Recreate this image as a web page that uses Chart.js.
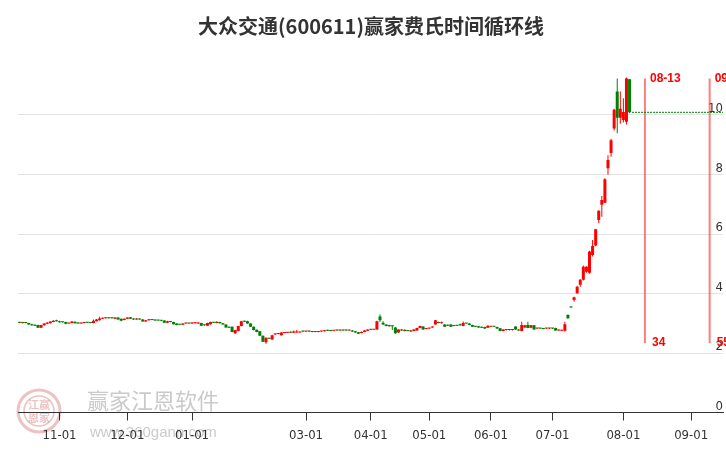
<!DOCTYPE html>
<html><head><meta charset="utf-8">
<script src="https://cdn.jsdelivr.net/npm/chart.js@4.4.1/dist/chart.umd.min.js"></script>
<style>html,body{margin:0;padding:0;background:#fff;}</style>
</head><body>
<canvas id="c" width="726" height="450"></canvas>
<script>
const chartTitle = '大众交通(600611)赢家费氏时间循环线';
const opens = [3.03,3.01,3.03,3.01,2.97,2.94,2.94,2.85,2.93,2.98,3.00,3.04,3.08,3.07,3.04,3.04,2.99,3.01,3.05,3.02,
2.99,3.01,3.03,3.02,3.01,3.07,3.10,3.15,3.17,3.18,3.18,3.15,3.19,3.15,3.11,3.15,3.20,3.16,3.13,3.15,
3.13,3.06,3.10,3.12,3.12,3.10,3.10,3.09,3.02,3.04,3.04,2.99,2.96,2.95,2.99,3.00,2.99,3.00,2.99,3.01,
2.94,2.92,2.97,3.03,3.01,3.04,3.00,2.96,2.88,2.88,2.66,2.74,2.91,3.07,3.07,2.99,2.88,2.78,2.73,2.58,
2.36,2.50,2.45,2.62,2.64,2.60,2.67,2.68,2.71,2.68,2.69,2.69,2.73,2.72,2.73,2.71,2.71,2.71,2.72,2.73,
2.77,2.76,2.75,2.77,2.76,2.77,2.77,2.76,2.76,2.73,2.70,2.67,2.71,2.75,2.79,2.78,2.79,3.23,3.02,2.96,
2.94,2.92,2.86,2.69,2.79,2.74,2.76,2.72,2.74,2.76,2.84,2.89,2.81,2.82,2.86,2.96,3.04,3.00,2.96,2.95,
2.96,2.91,2.93,2.97,2.91,3.00,2.99,2.94,2.90,2.90,2.88,2.87,2.85,2.88,2.89,2.87,2.83,2.74,2.77,2.78,
2.77,2.89,2.79,2.74,2.86,2.94,2.85,2.93,2.82,2.83,2.82,2.82,2.82,2.83,2.84,2.76,2.75,2.75,3.28,3.55,
3.78,4.01,4.29,4.46,4.73,4.70,5.29,5.61,6.47,6.98,7.05,8.21,8.72,9.55,10.79,9.91,9.83,9.77,11.20];
const closes = [3.02,3.03,3.01,2.96,2.93,2.92,2.85,2.94,2.99,3.02,3.06,3.08,3.07,3.03,3.03,2.98,3.00,3.06,3.00,2.99,
3.01,3.02,3.02,3.01,3.08,3.13,3.16,3.18,3.18,3.17,3.17,3.19,3.13,3.08,3.15,3.19,3.15,3.13,3.16,3.13,
3.06,3.10,3.13,3.11,3.09,3.09,3.08,3.02,3.07,3.05,2.97,2.94,2.95,2.99,3.01,2.99,3.02,3.03,3.02,2.92,
2.93,3.01,3.04,3.02,3.05,3.00,2.96,2.86,2.85,2.71,2.77,2.91,3.07,3.05,2.99,2.88,2.77,2.71,2.58,2.38,
2.51,2.48,2.60,2.65,2.65,2.69,2.69,2.69,2.68,2.72,2.72,2.71,2.72,2.73,2.72,2.73,2.73,2.73,2.73,2.76,
2.75,2.74,2.76,2.76,2.77,2.76,2.76,2.77,2.72,2.69,2.65,2.71,2.76,2.79,2.78,2.79,3.07,3.10,2.96,2.91,
2.90,2.90,2.66,2.79,2.76,2.78,2.74,2.76,2.79,2.84,2.91,2.79,2.82,2.83,2.89,3.10,3.01,3.03,2.88,2.92,
2.88,2.93,2.92,2.93,3.01,2.99,2.94,2.88,2.88,2.86,2.85,2.82,2.92,2.89,2.88,2.82,2.74,2.79,2.78,2.77,
2.78,2.79,2.76,2.94,2.93,2.84,2.93,2.79,2.83,2.82,2.81,2.83,2.83,2.82,2.76,2.78,2.77,2.97,3.17,3.53,
3.87,4.23,4.46,4.90,4.90,5.41,5.60,6.16,6.78,7.14,7.84,8.49,9.15,10.18,9.91,10.21,10.10,11.23,10.09];
const highs = [3.04,3.04,3.04,3.02,2.98,2.96,2.95,2.95,3.00,3.04,3.07,3.10,3.12,3.08,3.05,3.05,3.02,3.07,3.06,3.03,
3.02,3.03,3.04,3.03,3.13,3.14,3.22,3.19,3.20,3.19,3.19,3.20,3.20,3.16,3.16,3.20,3.21,3.17,3.17,3.16,
3.14,3.11,3.14,3.13,3.13,3.11,3.11,3.10,3.08,3.06,3.05,3.00,2.97,3.00,3.02,3.01,3.03,3.04,3.03,3.02,
2.95,3.02,3.05,3.04,3.06,3.05,3.01,2.97,2.89,2.89,2.78,2.92,3.08,3.09,3.08,3.00,2.89,2.79,2.74,2.59,
2.52,2.51,2.61,2.66,2.66,2.70,2.70,2.70,2.72,2.76,2.77,2.72,2.74,2.74,2.74,2.74,2.74,2.74,2.74,2.77,
2.78,2.77,2.77,2.78,2.78,2.78,2.78,2.78,2.77,2.74,2.71,2.72,2.77,2.80,2.80,2.80,3.08,3.29,3.07,2.97,
2.95,2.93,2.87,2.80,2.80,2.79,2.77,2.77,2.81,2.85,2.92,2.90,2.83,2.84,2.90,3.11,3.05,3.06,2.97,2.96,
2.97,2.94,2.94,2.98,3.06,3.01,3.00,2.95,2.91,2.91,2.89,2.88,2.93,2.90,2.90,2.88,2.84,2.80,2.79,2.79,
2.79,2.90,2.80,3.05,2.94,3.05,2.94,2.94,2.84,2.84,2.83,2.84,2.84,2.84,2.85,2.79,2.78,3.05,3.30,3.56,
3.89,4.26,4.49,4.94,4.92,5.44,5.80,6.17,6.80,7.28,7.87,8.65,9.20,10.21,11.23,10.79,10.56,11.26,11.21];
const lows = [3.01,3.00,3.00,2.95,2.92,2.91,2.84,2.84,2.92,2.97,2.99,3.03,3.06,3.02,3.02,2.97,2.98,3.00,2.99,2.98,
2.98,3.00,3.01,3.00,3.00,3.06,3.09,3.14,3.16,3.16,3.16,3.14,3.12,3.07,3.10,3.14,3.14,3.12,3.12,3.12,
3.05,3.05,3.09,3.10,3.08,3.08,3.07,3.01,3.01,3.03,2.96,2.93,2.94,2.94,2.98,2.98,2.98,2.99,2.98,2.91,
2.92,2.91,2.96,3.01,3.00,2.99,2.95,2.85,2.84,2.70,2.64,2.73,2.90,3.04,2.98,2.87,2.76,2.70,2.57,2.37,
2.31,2.47,2.44,2.61,2.63,2.59,2.66,2.67,2.67,2.67,2.68,2.68,2.71,2.71,2.71,2.70,2.70,2.70,2.71,2.72,
2.74,2.73,2.74,2.75,2.75,2.75,2.75,2.75,2.71,2.68,2.64,2.66,2.70,2.74,2.77,2.77,2.78,3.04,2.95,2.90,
2.89,2.77,2.65,2.68,2.75,2.73,2.73,2.71,2.73,2.75,2.83,2.78,2.80,2.81,2.85,2.95,3.00,2.99,2.87,2.91,
2.87,2.90,2.91,2.92,2.90,2.98,2.93,2.87,2.87,2.85,2.84,2.81,2.84,2.87,2.87,2.81,2.73,2.73,2.76,2.76,
2.76,2.78,2.75,2.73,2.85,2.83,2.84,2.78,2.81,2.81,2.80,2.81,2.81,2.81,2.75,2.75,2.74,2.72,3.15,3.52,
3.72,3.99,4.23,4.44,4.70,4.66,5.24,5.59,6.36,6.58,7.04,7.99,8.60,9.48,9.39,9.71,9.75,9.68,10.06];
const tickIdx = [13, 35, 56, 93, 114, 133, 153, 173, 196, 218];
const tickLabels = ['11-01','12-01','01-01','03-01','04-01','05-01','06-01','07-01','08-01','09-01'];
const yTicks = [0, 2, 4, 6, 8, 10];
const cycleIdx = [203, 224];
const cycleNums = ['34', '55'];
const cycleDates = ['08-13', '09-11'];
const cycleTop = 11.23;
const cycleBottom = 2.33;

const RED = '#ff0000', GREEN = '#008000';
const idx = opens.map((_, i) => i);
const colors = idx.map(i => closes[i] >= opens[i] ? RED : GREEN);
const lastIdx = closes.length - 1;
const lastClose = closes[lastIdx];
const labelFont = "'Liberation Sans Narrow','DejaVu Sans Condensed',sans-serif";

const datasets = [
  { type: 'bar', data: idx.map(i => ({x: i, y: [lows[i], highs[i]]})), backgroundColor: colors,
    barThickness: 1, grouped: false, order: 2, borderWidth: 0, inflateAmount: 0 },
  { type: 'bar', data: idx.map(i => ({x: i, y: [opens[i], closes[i]]})), backgroundColor: colors,
    barThickness: 3, grouped: false, order: 1, borderWidth: 0, minBarLength: 1, inflateAmount: 0 },
  { type: 'line', data: [{x: lastIdx + 0.8, y: lastClose}, {x: 240, y: lastClose}], borderColor: GREEN,
    borderWidth: 1, borderDash: [2, 1], pointRadius: 0, order: 0 }
];
cycleIdx.forEach(ci => datasets.push({ type: 'line', data: [{x: ci, y: cycleBottom}, {x: ci, y: cycleTop}],
  borderColor: 'rgba(255,40,40,0.6)', borderWidth: 2, pointRadius: 0, order: 0 }));

const decor = {
  id: 'decor',
  beforeDraw(chart) {
    const ctx = chart.ctx;
    ctx.save();
    ctx.fillStyle = '#fff'; ctx.fillRect(0, 0, chart.width, chart.height);
    ctx.strokeStyle = 'rgba(210,110,110,0.42)'; ctx.lineWidth = 3;
    ctx.beginPath(); ctx.arc(39, 411, 21, 0, Math.PI * 2); ctx.stroke();
    ctx.lineWidth = 1.5; ctx.beginPath(); ctx.arc(39, 411, 15, 0, Math.PI * 2); ctx.stroke();
    ctx.fillStyle = 'rgba(210,110,110,0.42)'; ctx.font = "bold 11px 'Noto Sans CJK SC'";
    ctx.textAlign = 'center'; ctx.textBaseline = 'middle';
    ctx.fillText('江赢', 39, 405); ctx.fillText('恩家', 39, 418);
    ctx.fillStyle = 'rgba(150,150,150,0.5)'; ctx.textAlign = 'left';
    ctx.font = "22px 'Noto Sans CJK SC'"; ctx.fillText('赢家江恩软件', 87, 401);
    ctx.font = "15px 'Liberation Sans',sans-serif"; ctx.fillText('www.360gann.com', 90, 433);
    ctx.restore();
  },
  afterDraw(chart) {
    const ctx = chart.ctx, xs = chart.scales.x, ys = chart.scales.y;
    ctx.save();
    ctx.fillStyle = '#333'; ctx.font = "bold 20px 'Noto Sans CJK SC'";
    ctx.textAlign = 'center'; ctx.textBaseline = 'middle';
    ctx.fillText(chartTitle, 371, 26);
    ctx.fillStyle = '#ff0000'; ctx.font = "bold 12px 'Liberation Sans',Arial,sans-serif";
    ctx.textAlign = 'left';
    cycleIdx.forEach((ci, k) => {
      const px = xs.getPixelForValue(ci);
      ctx.fillText(cycleDates[k], px + 5, ys.getPixelForValue(cycleTop));
      ctx.fillText(cycleNums[k], px + 7, ys.getPixelForValue(cycleBottom));
    });
    ctx.restore();
  }
};

new Chart(document.getElementById('c'), {
  type: 'bar',
  data: { datasets },
  plugins: [decor],
  options: {
    responsive: false, animation: false, devicePixelRatio: 1,
    layout: { padding: { left: 18, right: 3, top: 55.5, bottom: 0 } },
    plugins: { legend: { display: false }, tooltip: { enabled: false }, title: { display: false } },
    scales: {
      x: {
        type: 'linear', min: -0.487, max: 228.33, offset: false,
        afterBuildTicks: s => { s.ticks = tickIdx.map(v => ({ value: v })); },
        afterFit: s => { s.height = 37.5; },
        ticks: { autoSkip: false, maxRotation: 0, minRotation: 0, padding: 7, color: '#333',
          font: { family: labelFont, size: 13 },
          callback: (v, i) => tickLabels[i] },
        grid: { display: true, offset: false, drawOnChartArea: false, drawTicks: true, tickLength: 8, color: '#333' },
        border: { display: true, color: '#333', width: 1 }
      },
      y: {
        type: 'linear', position: 'right', min: 0, max: 12,
        afterBuildTicks: s => { s.ticks = yTicks.map(v => ({ value: v })); },
        afterFit: s => { s.width = 0; },
        ticks: { mirror: true, padding: 0, labelOffset: -6, color: '#333', font: { family: labelFont, size: 13 } },
        grid: { color: '#e3e3e3', drawTicks: false },
        border: { display: false }
      }
    }
  }
});
</script>
</body></html>
